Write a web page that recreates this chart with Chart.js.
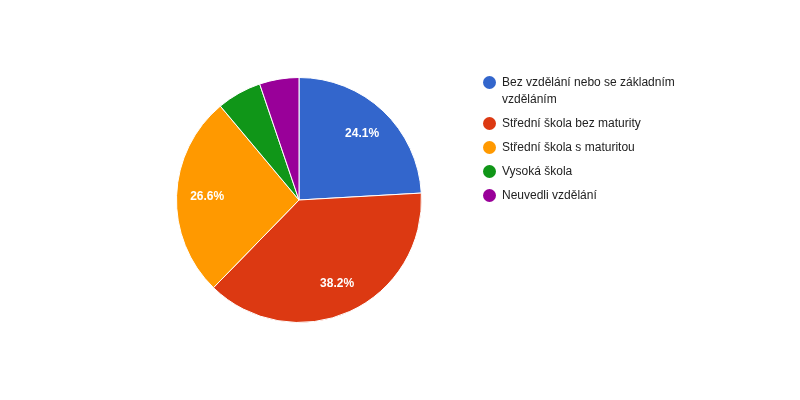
<!DOCTYPE html>
<html><head><meta charset="utf-8">
<script src="https://cdn.jsdelivr.net/npm/chart.js@4/dist/chart.umd.min.js"></script>
<style>
body{margin:0;background:#fff;font-family:Arial,"Liberation Sans",sans-serif;}
#wrap{position:absolute;left:0;top:0;width:598px;height:400px;}
#legend{position:absolute;left:483px;top:74px;font-size:12px;color:#222;}
.it{position:relative;padding-left:19px;margin-bottom:7px;line-height:17px;width:190px;}
.dot{position:absolute;left:0;top:2px;width:13px;height:13px;border-radius:50%;}
</style></head><body>
<div id="wrap"><canvas id="c"></canvas></div>
<div id="legend"></div>
<script>
const categories=["Bez vzdělání nebo se základním vzděláním","Střední škola bez maturity","Střední škola s maturitou","Vysoká škola","Neuvedli vzdělání"];
const values=[24.1,38.2,26.6,5.9,5.2];
const colors=["#3366cc","#dc3912","#ff9900","#109618","#990099"];
const lg=document.getElementById('legend');
categories.forEach((c,i)=>{const d=document.createElement('div');d.className='it';d.innerHTML='<span class="dot" style="background:'+colors[i]+'"></span>'+c;lg.appendChild(d);});
const lbl={id:'lbl',afterDatasetsDraw(ch){const ctx=ch.ctx;const meta=ch.getDatasetMeta(0);const tot=values.reduce((a,b)=>a+b,0);
ctx.save();ctx.fillStyle='#fff';ctx.font='bold 12px Arial, "Liberation Sans"';ctx.textAlign='center';ctx.textBaseline='middle';
meta.data.forEach((a,i)=>{const p=values[i]/tot*100;if(p<10)return;const m=(a.startAngle+a.endAngle)/2;const r=a.outerRadius*0.75;
ctx.fillText(p.toFixed(1)+'%',a.x+Math.cos(m)*r,a.y+Math.sin(m)*r);});ctx.restore();}};
new Chart(document.getElementById('c'),{type:'pie',data:{labels:categories,datasets:[{data:values,backgroundColor:colors,borderColor:'#fff',borderWidth:1}]},
options:{responsive:true,maintainAspectRatio:false,animation:false,layout:{padding:{top:77,bottom:77}},plugins:{legend:{display:false},tooltip:{enabled:false}}},plugins:[lbl]});
</script></body></html>
